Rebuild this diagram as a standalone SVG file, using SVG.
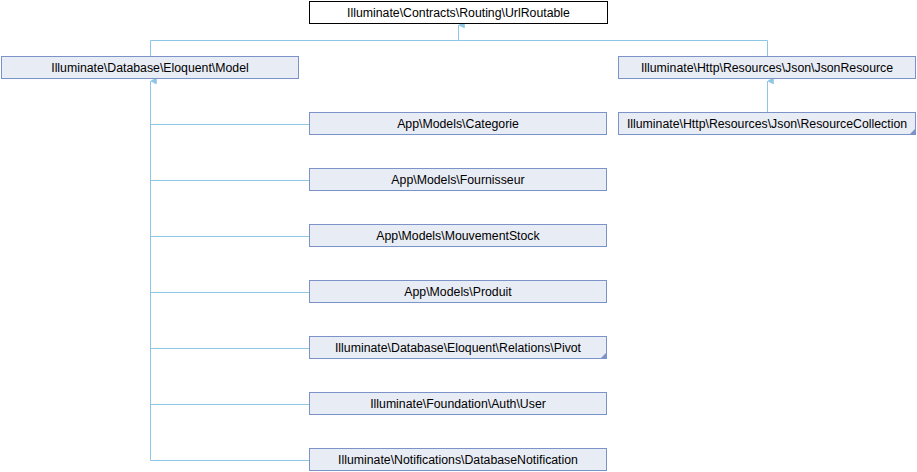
<svg xmlns="http://www.w3.org/2000/svg" width="917" height="472" viewBox="0 0 917 472">
<defs>
<style>
.n rect{fill:#E8ECF5;stroke:#7B93C8;stroke-width:1}
.n.top rect{fill:#FFFFFF;stroke:#000000}
.n text{font-family:"Liberation Sans",Arial,sans-serif;font-size:12.3px;fill:#000;text-anchor:middle}
.e{fill:none;stroke:#8FC6E6;stroke-width:1}
.tri{fill:#7B93C8}
</style>
<marker id="ah" viewBox="0 0 10 10" refX="5" refY="0" markerWidth="6" markerHeight="6" orient="auto-start-reverse" markerUnits="userSpaceOnUse">
<path d="M0,10 L5,0 L10,10 Z" fill="#8FC6E6" stroke="#8FC6E6"/>
</marker>
</defs>
<rect width="917" height="472" fill="#FFFFFF"/>
<g id="connectors">
<path class="e" d="M458.5,25 V40.5 H150.5 V56"/>
<path class="e" d="M458.5,40.5 H767.5 V56"/>
<path class="e" d="M458.5,25 L458.5,31" marker-start="url(#ah)"/>
<path class="e" d="M150.5,81 V460.5"/>
<path class="e" d="M150.5,81 L150.5,87" marker-start="url(#ah)"/>
<path class="e" d="M150.5,124.5 H309"/>
<path class="e" d="M150.5,180.5 H309"/>
<path class="e" d="M150.5,236.5 H309"/>
<path class="e" d="M150.5,292.5 H309"/>
<path class="e" d="M150.5,348.5 H309"/>
<path class="e" d="M150.5,404.5 H309"/>
<path class="e" d="M150.5,460.5 H309"/>
<path class="e" d="M767.5,81 V112"/>
<path class="e" d="M767.5,81 L767.5,87" marker-start="url(#ah)"/>
</g>
<g id="urlroutable" class="n top"><rect x="309.5" y="1.5" width="298" height="22"/><text x="458.5" y="17">Illuminate\Contracts\Routing\UrlRoutable</text></g>
<g id="model" class="n"><rect x="1.5" y="56.5" width="297" height="22"/><text x="150" y="72">Illuminate\Database\Eloquent\Model</text></g>
<g id="jsonresource" class="n"><rect x="618.5" y="56.5" width="297" height="22"/><text x="767" y="72">Illuminate\Http\Resources\Json\JsonResource</text></g>
<g id="resourcecollection" class="n"><rect x="618.5" y="112.5" width="297" height="22"/><text x="767" y="128">Illuminate\Http\Resources\Json\ResourceCollection</text><path class="tri" d="M915,129 V134 H910 Z"/></g>
<g id="categorie" class="n"><rect x="309.5" y="112.5" width="297" height="22"/><text x="458" y="128">App\Models\Categorie</text></g>
<g id="fournisseur" class="n"><rect x="309.5" y="168.5" width="297" height="22"/><text x="458" y="184">App\Models\Fournisseur</text></g>
<g id="mouvementstock" class="n"><rect x="309.5" y="224.5" width="297" height="22"/><text x="458" y="240">App\Models\MouvementStock</text></g>
<g id="produit" class="n"><rect x="309.5" y="280.5" width="297" height="22"/><text x="458" y="296">App\Models\Produit</text></g>
<g id="pivot" class="n"><rect x="309.5" y="336.5" width="297" height="22"/><text x="458" y="352">Illuminate\Database\Eloquent\Relations\Pivot</text><path class="tri" d="M606,353 V358 H601 Z"/></g>
<g id="user" class="n"><rect x="309.5" y="392.5" width="297" height="22"/><text x="458" y="408">Illuminate\Foundation\Auth\User</text></g>
<g id="databasenotification" class="n"><rect x="309.5" y="448.5" width="297" height="22"/><text x="458" y="464">Illuminate\Notifications\DatabaseNotification</text></g>
</svg>
